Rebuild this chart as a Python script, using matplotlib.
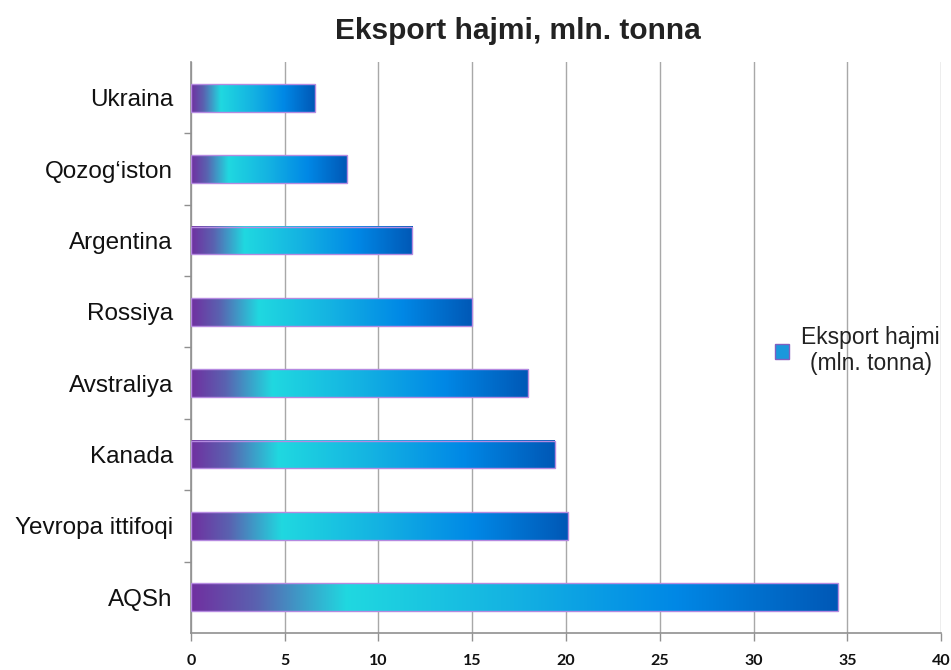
import matplotlib.pyplot as plt
import numpy as np
from matplotlib.colors import LinearSegmentedColormap
from matplotlib.patches import Patch

# Data (bottom to top)
countries = ["AQSh", "Yevropa ittifoqi", "Kanada", "Avstraliya",
             "Rossiya", "Argentina", "Qozog\u2018iston", "Ukraina"]
export_mln_t = [34.5, 20.1, 19.4, 18.0, 15.0, 11.8, 8.3, 6.6]
x_ticks = [0, 5, 10, 15, 20, 25, 30, 35, 40]

# Gradient along each bar: purple -> cyan -> blue -> dark blue
grad = LinearSegmentedColormap.from_list(
    "bar_grad",
    [(0.0, "#7030A0"), (0.10, "#5A62B0"), (0.24, "#20D8E0"),
     (0.50, "#14B2E2"), (0.75, "#0088E6"), (1.0, "#0058B6")])

fig = plt.figure(figsize=(9.51, 6.70), dpi=100)
ax = fig.add_axes([0.2008, 0.0552, 0.7887, 0.8523])

bar_h = 0.39
ramp = np.linspace(0, 1, 256).reshape(1, -1)
for i, v in enumerate(export_mln_t):
    ax.imshow(ramp, cmap=grad, aspect="auto", interpolation="bilinear",
              extent=[0, v, i - bar_h / 2, i + bar_h / 2], zorder=2)
bars = ax.barh(range(len(countries)), export_mln_t, height=bar_h,
               facecolor="none", edgecolor="#B58AE0", linewidth=1.0, zorder=3)

ax.set_xlim(0, 40)
ax.set_ylim(-0.5, len(countries) - 0.5)

# x axis
ax.set_xticks(x_ticks)
ax.set_xticklabels([str(t) for t in x_ticks], fontfamily="Lato",
                   fontweight="bold", fontsize=11.5, color="#111111")
ax.tick_params(axis="x", direction="out", length=6, width=1,
               color="#909090", pad=9)
ax.grid(axis="x", color="#A8A8A8", linewidth=1, zorder=0)
ax.set_axisbelow(True)

# y axis: labels at bar centres, ticks between categories
ax.set_yticks(range(len(countries)))
ax.set_yticklabels(countries, fontfamily="Liberation Sans", fontsize=17.5,
                   color="#111111")
ax.set_yticks(np.arange(0.5, len(countries) - 0.5, 1), minor=True)
ax.tick_params(axis="y", which="major", length=0, pad=13)
ax.tick_params(axis="y", which="minor", direction="out", length=5,
               width=1, color="#909090")

for s in ["top", "right"]:
    ax.spines[s].set_visible(False)
for s in ["left", "bottom"]:
    ax.spines[s].set_color("#909090")
    ax.spines[s].set_linewidth(1.2)

fig.text(0.545, 0.953, "Eksport hajmi, mln. tonna", ha="center", va="center",
         fontfamily="Liberation Sans", fontweight="bold", fontsize=21.5,
         color="#222222")

handle = Patch(facecolor="#1A98DC", edgecolor="#8060C0", linewidth=1)
leg = fig.legend([handle], ["Eksport hajmi\n(mln. tonna)"],
                 loc="center left", bbox_to_anchor=(0.815, 0.477),
                 frameon=False, handlelength=0.6, handleheight=0.6,
                 handletextpad=0.55, borderpad=0, borderaxespad=0,
                 prop={"family": "Liberation Sans", "size": 16.5})
for t in leg.get_texts():
    t.set_multialignment("center")
    t.set_color("#222222")

fig.savefig("out.png", dpi=100)
